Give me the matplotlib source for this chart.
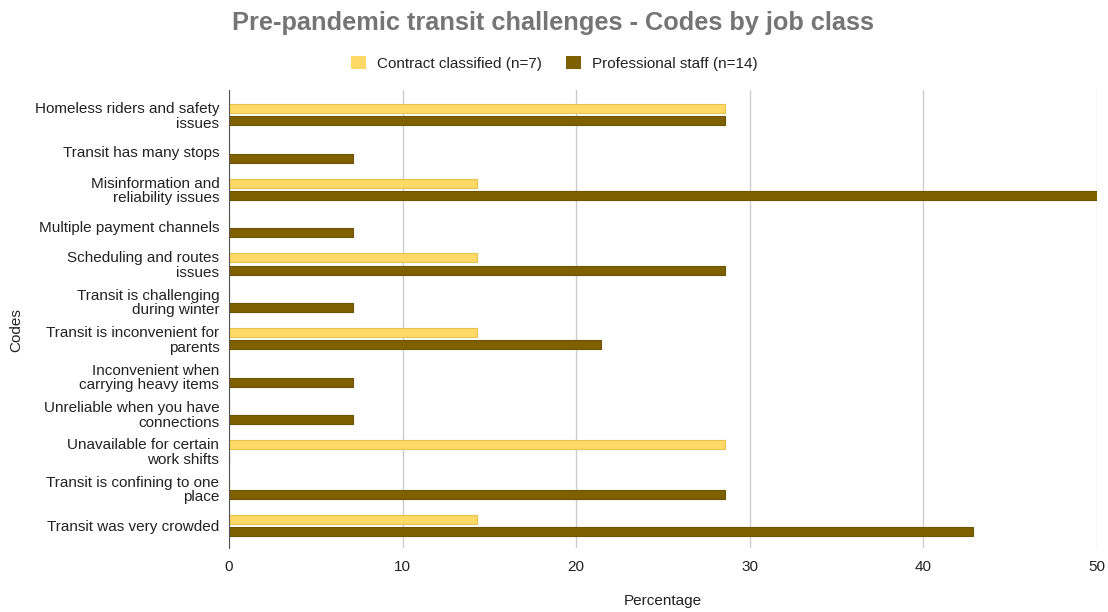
import matplotlib.pyplot as plt
from matplotlib.patches import Patch
import numpy as np

plt.rcParams['font.family'] = ['Liberation Sans', 'DejaVu Sans']

# Codigos e valores (percentagens)
codes = [
    "Homeless riders and safety\nissues",
    "Transit has many stops",
    "Misinformation and\nreliability issues",
    "Multiple payment channels",
    "Scheduling and routes\nissues",
    "Transit is challenging\nduring winter",
    "Transit is inconvenient for\nparents",
    "Inconvenient when\ncarrying heavy items",
    "Unreliable when you have\nconnections",
    "Unavailable for certain\nwork shifts",
    "Transit is confining to one\nplace",
    "Transit was very crowded",
]
contract = [28.57, 0, 14.29, 0, 14.29, 0, 14.29, 0, 0, 28.57, 0, 14.29]
professional = [28.57, 7.14, 50.0, 7.14, 28.57, 7.14, 21.43, 7.14, 7.14, 0, 28.57, 42.86]
series_names = ["Contract classified (n=7)", "Professional staff (n=14)"]
colors = ["#FFD966", "#7F6000"]
edges = ["#E6C24F", "#6E5300"]

fig = plt.figure(figsize=(11.08, 6.12), dpi=100)
ax = fig.add_axes([0.2067, 0.1046, 0.7833, 0.748])

y = np.arange(len(codes))
h = 0.24
off = 0.165
ax.barh(y - off, contract, height=h, color=colors[0], edgecolor=edges[0], linewidth=0.8, zorder=3)
ax.barh(y + off, professional, height=h, color=colors[1], edgecolor=edges[1], linewidth=0.8, zorder=3)

ax.set_ylim(len(codes) - 0.4, -0.65)
ax.set_xlim(0, 50)
ax.set_xticks([0, 10, 20, 30, 40, 50])
ax.set_yticks(y)
ax.set_yticklabels(codes, fontsize=11, color="#222222", linespacing=1.05)
ax.tick_params(axis='both', length=0, labelsize=11, colors="#222222")
ax.tick_params(axis='x', pad=9)
ax.tick_params(axis='y', pad=7)

ax.grid(axis='x', color="#CCCCCC", linewidth=1, zorder=0)
for s in ['top', 'right', 'bottom']:
    ax.spines[s].set_visible(False)
ax.spines['left'].set_color("#555555")
ax.spines['left'].set_zorder(4)

ax.set_xlabel("Percentage", fontsize=11, color="#222222", labelpad=14)
fig.text(0.015, 0.46, "Codes", rotation=90, fontsize=11, color="#222222", va='center', ha='center')

fig.suptitle("Pre-pandemic transit challenges - Codes by job class", x=0.4995, y=0.982,
             fontsize=18.3, fontweight='bold', color="#757575")

handles = [Patch(facecolor=c, edgecolor='none') for c in colors]
fig.legend(handles, series_names, loc='center', bbox_to_anchor=(0.5, 0.897), ncol=2,
           frameon=False, fontsize=11, handlelength=1.0, handleheight=1.0,
           columnspacing=1.6, handletextpad=0.7, labelcolor="#222222")

fig.savefig("out.png", dpi=100)
